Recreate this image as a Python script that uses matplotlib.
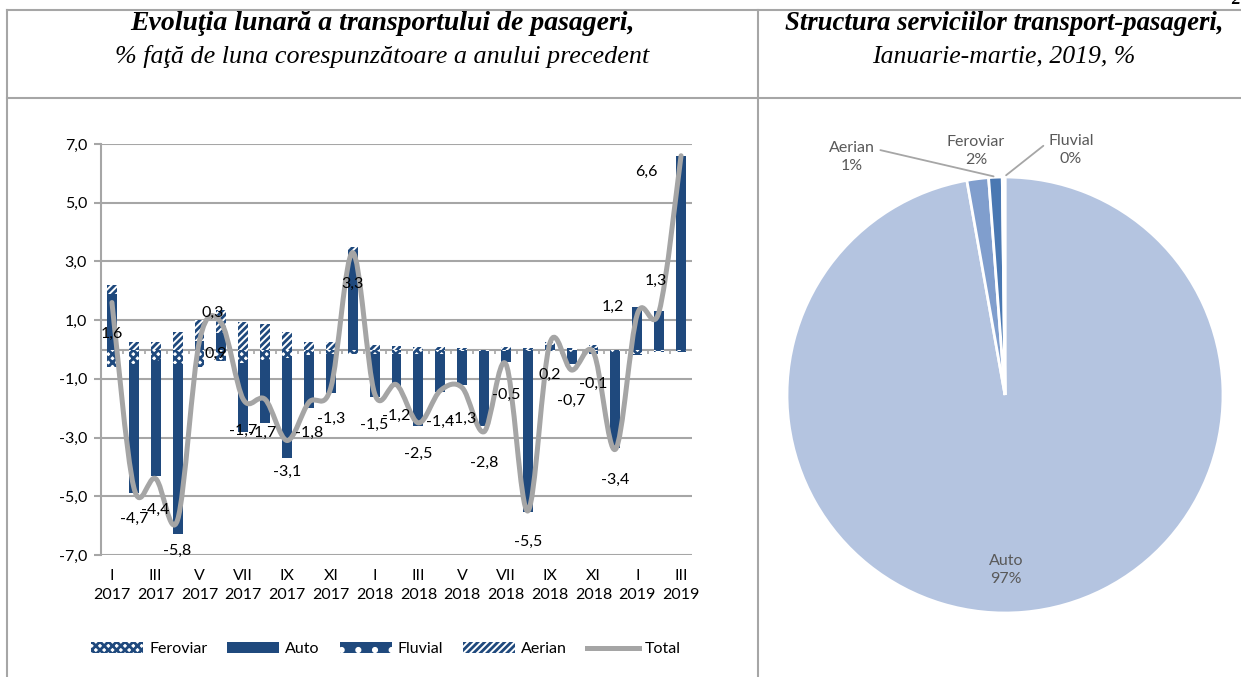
import numpy as np
import matplotlib.pyplot as plt
from matplotlib.path import Path
from matplotlib.patches import PathPatch, Patch
from matplotlib.lines import Line2D

plt.rcParams['font.family'] = ['Lato', 'DejaVu Sans']
plt.rcParams['hatch.linewidth'] = 2.0

# Monthly data, I 2017 .. III 2019
months = ['I', 'II', 'III', 'IV', 'V', 'VI', 'VII', 'VIII', 'IX', 'X', 'XI', 'XII'] * 2 + ['I', 'II', 'III']
years = ['2017'] * 12 + ['2018'] * 12 + ['2019'] * 3

feroviar = [-0.6, -0.5, -0.4, -0.5, -0.6, -0.4, -0.45, -0.35, -0.3, -0.2, -0.17, -0.17, -0.17, -0.15,
            -0.17, -0.15, -0.05, -0.05, -0.05, -0.05, -0.05, -0.1, -0.05, -0.1, -0.15, -0.05, -0.05]
auto = [1.9, -4.4, -3.9, -5.8, 0.3, 0.55, -2.35, -2.15, -3.4, -1.8, -1.3, 3.35, -1.46, -1.1,
        -2.45, -1.3, -1.15, -2.57, -0.36, -5.5, 0.15, -0.4, -0.1, -3.25, 1.45, 1.3, 6.6]
fluvial = [0.0, 0.0, 0.0, 0.0, 0.0, 0.0, 0.0, 0.0, 0.0, 0.0, 0.0, 0.0, 0.0, 0.0,
           0.0, 0.0, 0.0, 0.0, 0.0, 0.0, 0.0, 0.05, 0.05, 0.0, -0.05, -0.05, -0.05]
aerian = [0.3, 0.27, 0.24, 0.58, 0.72, 0.8, 0.95, 0.88, 0.6, 0.24, 0.24, 0.15, 0.17, 0.13,
          0.1, 0.1, 0.05, 0.0, 0.1, 0.05, 0.1, 0.0, 0.1, 0.0, 0.0, 0.0, 0.0]
total = [1.6, -4.7, -4.4, -5.8, 0.3, 0.9, -1.7, -1.7, -3.1, -1.8, -1.3, 3.3, -1.5, -1.2,
         -2.5, -1.4, -1.3, -2.8, -0.5, -5.5, 0.2, -0.7, -0.1, -3.4, 1.2, 1.3, 6.6]

# label offsets in pixels (dx, dy down), default below the point
label_shift = {4: (13, -28), 5: (-6, 31), 7: (-3, 33), 24: (-24, -7), 25: (-3, -30), 26: (-35, 16)}

# Pie data, Ianuarie-martie 2019
pie_labels = ['Auto', 'Feroviar', 'Aerian', 'Fluvial']
pie_values = [97.2, 1.6, 1.0, 0.2]

blue = '#1F497D'
grey = '#A6A6A6'
fs = 11.5

fig = plt.figure(figsize=(12.41, 6.77), dpi=100)

# table frame and titles
bg = fig.add_axes([0, 0, 1, 1], zorder=-1)
bg.set_xlim(0, 1241)
bg.set_ylim(677, 0)
bg.axis('off')
bg.plot([7, 1241], [10, 10], color=grey, lw=1.5)
bg.plot([7, 1241], [98, 98], color=grey, lw=1.5)
bg.plot([7, 7], [10, 677], color=grey, lw=1.5)
bg.plot([758, 758], [10, 677], color=grey, lw=1.5)
tfont = dict(family='Liberation Serif', style='italic', ha='center', va='center')
bg.text(382, 24, 'Evoluţia lunară a transportului de pasageri,', weight='bold', size=20, **tfont)
bg.text(382, 56, '% faţă de luna corespunzătoare a anului precedent', size=18.8, **tfont)
bg.text(1004, 24, 'Structura serviciilor transport-pasageri,', weight='bold', size=19.3, **tfont)
bg.text(1004, 56, 'Ianuarie-martie, 2019, %', size=18.5, **tfont)
bg.text(1236, 0, '2', weight='bold', size=13, **tfont)

# ---- stacked bars + smoothed total
ax = fig.add_axes([101 / 1241, 122 / 677, 591 / 1241, 411 / 677])
x = np.arange(len(total))
pos_base = np.zeros(len(x))
neg_base = np.zeros(len(x))
series = [
    ('Feroviar', feroviar, dict(facecolor='white', edgecolor=blue, hatch='xxxx')),
    ('Auto', auto, dict(facecolor=blue, edgecolor=blue)),
    ('Fluvial', fluvial, dict(facecolor=blue, edgecolor='white', hatch='.')),
    ('Aerian', aerian, dict(facecolor='white', edgecolor=blue, hatch='/////')),
]
handles = []
for name, vals, style in series:
    vals = np.array(vals)
    bottom = np.where(vals >= 0, pos_base, neg_base)
    ax.bar(x, vals, 0.45, bottom=bottom, linewidth=0, zorder=2, **style)
    pos_base += np.where(vals > 0, vals, 0)
    neg_base += np.where(vals < 0, vals, 0)
    handles.append(Patch(linewidth=0, label=name, **style))


def smooth_path(xs, ys):
    pts = np.column_stack([xs, ys]).astype(float)
    ext = np.vstack([pts[0], pts, pts[-1]])
    verts = [pts[0]]
    codes = [Path.MOVETO]
    for i in range(len(pts) - 1):
        p0, p1, p2, p3 = ext[i], ext[i + 1], ext[i + 2], ext[i + 3]
        verts += [p1 + (p2 - p0) / 6, p2 - (p3 - p1) / 6, p2]
        codes += [Path.CURVE4] * 3
    return Path(verts, codes)


ax.add_patch(PathPatch(smooth_path(x, total), fill=False, edgecolor='#A5A5A5', lw=3.6,
                       capstyle='round', joinstyle='round', zorder=3))
handles.append(Line2D([], [], color='#A5A5A5', lw=3.6, label='Total'))

for i, v in enumerate(total):
    dx, dy = label_shift.get(i, (0, 31))
    ax.annotate(f'{v:.1f}'.replace('.', ','), (i, v), xytext=(dx * 0.72, -dy * 0.72),
                textcoords='offset points', ha='center', va='center', fontsize=fs, zorder=4)

ax.set_xlim(-0.5, len(x) - 0.5)
ax.set_ylim(-7, 7)
yt = np.arange(-7, 8, 2)
ax.set_yticks(yt)
ax.set_yticklabels([f'{v:.1f}'.replace('.', ',') for v in yt])
ax.yaxis.grid(True, color=grey, lw=1.5)
ax.set_axisbelow(True)
for s in ['top', 'right', 'bottom']:
    ax.spines[s].set_visible(False)
ax.spines['left'].set_color(grey)
ax.spines['left'].set_linewidth(1.5)
ax.tick_params(axis='y', length=5, color=grey, width=1.5, labelsize=fs, pad=5)
ax.set_xticks(x[::2])
ax.set_xticklabels([f'{m}\n{y}' for m, y in zip(months[::2], years[::2])], fontsize=fs,
                   linespacing=1.45)
ax.tick_params(axis='x', length=0, pad=10)
ax.axhline(0, color=grey, lw=1.5, zorder=1)
ax.vlines(np.arange(0.5, len(x) - 0.5), -0.15, 0, color=grey, lw=1.2, zorder=1)

fig.legend(handles=handles, loc='center', bbox_to_anchor=(386 / 1241, 28 / 677), ncol=5,
           frameon=False, fontsize=fs, handlelength=3.25, handleheight=0.75,
           handletextpad=0.375, columnspacing=1.25)

# ---- pie
pax = fig.add_axes([(1005 - 218) / 1241, (677 - 613) / 677, 436 / 1241, 436 / 677])
pie_colors = ['#B4C4E0', '#809ECD', '#4A78B2', '#2F5C95']
pax.pie(pie_values, colors=pie_colors, startangle=90, counterclock=False,
        wedgeprops=dict(edgecolor='white', linewidth=2))
pax.set_xlim(-1, 1)
pax.set_ylim(-1, 1)
txt = dict(ha='center', va='center', fontsize=fs, color='#595959', linespacing=1.4)
pax.text(0.005, -0.803, f'{pie_labels[0]}\n{pie_values[0]:.0f}%', **txt)
pax.text(-0.133, 1.119, f'{pie_labels[1]}\n{pie_values[1]:.0f}%', **txt)
pax.annotate(f'{pie_labels[2]}\n{pie_values[2]:.0f}%', (-0.04, 1.0), xytext=(-0.702, 1.092),
             arrowprops=dict(arrowstyle='-', color=grey, lw=1.3, relpos=(1, 0.75)), **txt)
pax.annotate(f'{pie_labels[3]}\n{pie_values[3]:.0f}%', (-0.005, 1.0), xytext=(0.303, 1.124),
             arrowprops=dict(arrowstyle='-', color=grey, lw=1.3, relpos=(0, 0.75)), **txt)

fig.savefig('out.png', dpi=100)
